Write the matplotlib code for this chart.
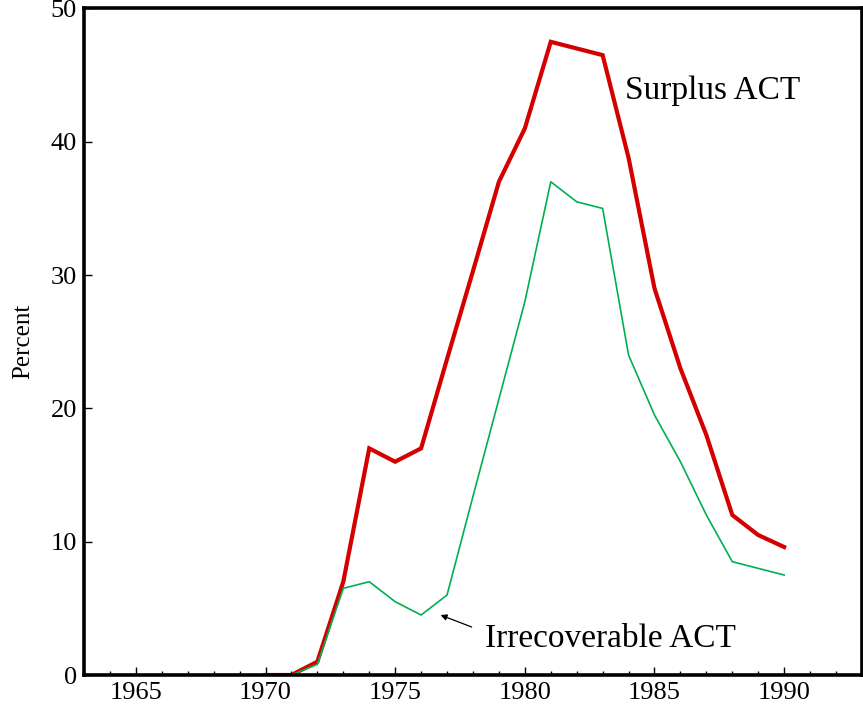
import matplotlib
matplotlib.use("Agg")
import matplotlib.pyplot as plt
from matplotlib.ticker import MultipleLocator

years = [1970, 1971, 1972, 1973, 1974, 1975, 1976, 1977, 1978, 1979, 1980,
         1981, 1982, 1983, 1984, 1985, 1986, 1987, 1988, 1989, 1990]
surplus_act = [0, 0, 1.0, 7.0, 17.0, 16.0, 17.0, 23.7, 30.3, 37.0, 41.0,
               47.5, 47.0, 46.5, 38.8, 29.0, 23.0, 18.0, 12.0, 10.5, 9.6]
irrecoverable_act = [0, 0, 0.8, 6.5, 7.0, 5.5, 4.5, 6.0, 13.4, 20.7, 28.0,
                     37.0, 35.5, 35.0, 24.0, 19.5, 16.0, 12.0, 8.5, 8.0, 7.5]
x_ticks = [1965, 1970, 1975, 1980, 1985, 1990]
y_ticks = [0, 10, 20, 30, 40, 50]

plt.rcParams['font.family'] = ['Liberation Serif', 'DejaVu Serif']

fig = plt.figure(figsize=(8.63, 7.06), dpi=100)
ax = fig.add_axes([0.0973, 0.0439, 0.9015, 0.9441])

ax.plot(years, surplus_act, color='#d40000', lw=3.0, zorder=2, solid_joinstyle='miter')
ax.plot(years, irrecoverable_act, color='#00b050', lw=1.2, zorder=3)

ax.set_xlim(1963, 1993)
ax.set_ylim(0, 50)
ax.set_xticks(x_ticks)
ax.set_yticks(y_ticks)
ax.xaxis.set_minor_locator(MultipleLocator(1))
ax.tick_params(axis='both', which='major', direction='in', length=6, width=1,
               labelsize=19, pad=5)
ax.tick_params(axis='x', which='minor', direction='in', length=3, width=1)
ax.tick_params(axis='y', which='minor', left=False)
for s in ax.spines.values():
    s.set_linewidth(2.6)
    s.set_zorder(4)

ax.set_ylabel('Percent', fontsize=18, labelpad=12)

ax.text(1983.85, 43.8, 'Surplus ACT', fontsize=24, va='center', ha='left')
ax.text(1978.45, 2.7, 'Irrecoverable ACT', fontsize=24, va='center', ha='left')
ax.annotate('', xy=(1976.75, 4.5), xytext=(1977.95, 3.6),
            arrowprops=dict(arrowstyle='-|>', color='black', lw=0.9,
                            mutation_scale=9, shrinkA=0, shrinkB=0))

fig.savefig('out.png', dpi=100)
